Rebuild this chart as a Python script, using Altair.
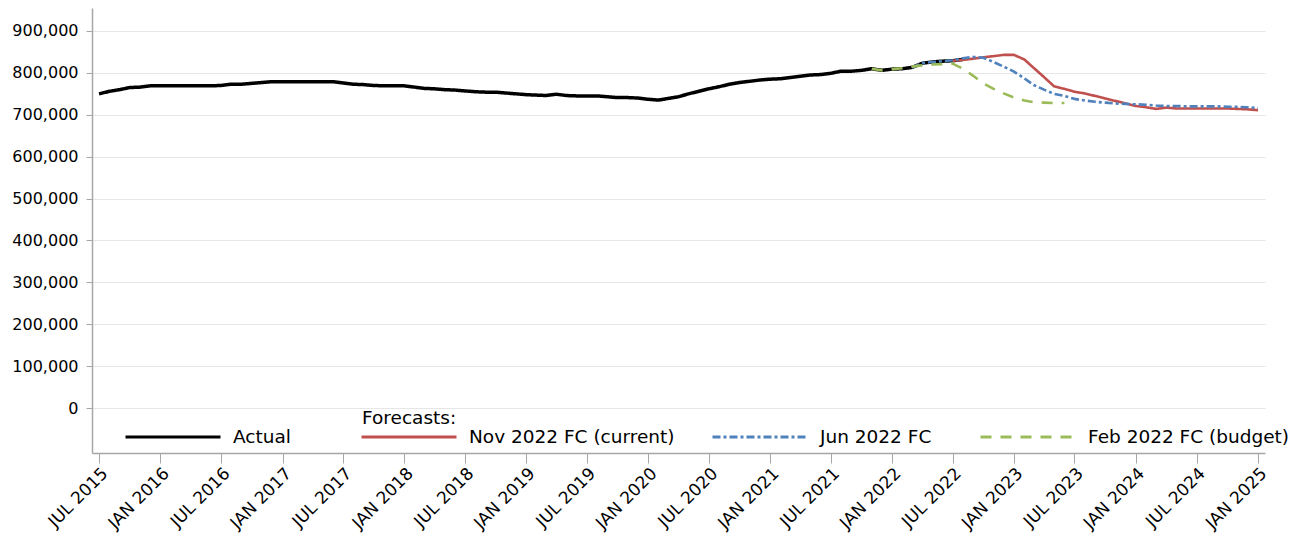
import altair as alt
import pandas as pd

# ---- data (values in thousands, monthly) ----
series_names = ["Actual", "Nov 2022 FC (current)", "Jun 2022 FC", "Feb 2022 FC (budget)"]

actual_start = "2015-07-01"
actual = [750, 756, 760, 765, 766, 769, 769, 769, 769, 769, 769, 769,
          770, 773, 773, 775, 777, 779, 779, 779, 779, 779, 779, 779,
          776, 773, 772, 770, 769, 769, 769, 766, 763, 762, 760, 759,
          757, 755, 754, 754, 752, 750, 748, 747, 746, 749, 746, 745,
          745, 745, 743, 741, 741, 740, 737, 735, 739, 743, 750, 756,
          762, 767, 773, 777, 780, 783, 785, 786, 789, 792, 795, 796,
          799, 804, 804, 806, 810, 806, 809, 810, 813, 823, 826, 828,
          829, 832]

nov_start = "2022-07-01"
nov_fc = [829, 831, 834, 837, 840, 843, 843, 832, 812, 790, 768, 762, 755, 751,
          745, 739, 733, 727, 721, 718, 714, 717, 715, 715, 715, 715, 715, 715,
          714, 713, 711]

jun_start = "2022-03-01"
jun_fc = [813, 823, 826, 828, 830, 835, 838, 836, 826, 815, 803, 787, 771, 760,
          750, 745, 738, 734, 731, 729, 727, 726, 725, 724, 722, 721, 721, 720,
          720, 720, 720, 719, 719, 718, 716]

feb_start = "2021-11-01"
feb_fc = [810, 806, 809, 811, 815, 818, 820, 821, 822, 810, 793, 775, 762, 751,
          741, 734, 730, 729, 728, 728]

y_ticks = [0, 100000, 200000, 300000, 400000, 500000, 600000, 700000, 800000, 900000]

colors = ["#000000", "#c0504d", "#4f81bd", "#9bbb59"]
dashes = [[1, 0], [1, 0], [8, 3, 3, 3], [11, 9]]
widths = [3.5, 2.6, 2.6, 2.6]
legend_x = [32, 268, 619, 887]

starts = [actual_start, nov_start, jun_start, feb_start]
values = [actual, nov_fc, jun_fc, feb_fc]

def ms(s):
    return int(pd.Timestamp(s, tz="UTC").value // 10**6)

FONT = "DejaVu Sans"

x_enc = alt.X("date:T",
              scale=alt.Scale(type="utc", domain=[ms("2015-06-10"), ms("2025-01-22")]),
              axis=alt.Axis(title=None, grid=False,
                            tickCount=alt.TimeIntervalStep(interval="month", step=6),
                            labelExpr="upper(utcFormat(datum.value, '%b %Y'))",
                            labelAngle=-45, labelFontSize=17, tickSize=10,
                            labelPadding=2, labelOverlap=False))
y_enc = alt.Y("value:Q",
              scale=alt.Scale(domain=[-107400, 954900], nice=False, zero=False),
              axis=alt.Axis(title=None, values=y_ticks, format=",d",
                            labelFontSize=16, tickSize=6, labelPadding=8))

layers = []
for name, start, vals, col, dash, w, lx in zip(series_names, starts, values,
                                               colors, dashes, widths, legend_x):
    dates = pd.date_range(start, periods=len(vals), freq="MS")
    d = pd.DataFrame({"date": dates.strftime("%Y-%m-%d"),
                      "value": [v * 1000 for v in vals],
                      "series": name})
    leg = alt.Legend(orient="none", legendX=lx, legendY=380, title=None,
                     symbolType="stroke", symbolSize=9025, symbolStrokeWidth=3,
                     labelFontSize=18.5, labelOffset=11, labelLimit=400, padding=0)
    layers.append(
        alt.Chart(d).mark_line(strokeJoin="round", strokeCap="butt", strokeWidth=w).encode(
            x=x_enc, y=y_enc,
            color=alt.Color("series:N", scale=alt.Scale(domain=[name], range=[col]), legend=leg),
            strokeDash=alt.StrokeDash("series:N", scale=alt.Scale(domain=[name], range=[dash]),
                                      legend=leg),
            order=alt.Order("date:T"),
        )
    )

label = alt.Chart(pd.DataFrame({"t": ["Forecasts:"]})).mark_text(
    align="left", baseline="middle", fontSize=18.5, font=FONT, color="#000000"
).encode(text="t:N", x=alt.value(270), y=alt.value(410))

chart = alt.layer(*layers, label).resolve_scale(
    color="independent", strokeDash="independent"
).properties(
    width=1173, height=445,
    padding={"left": 84, "top": 0, "right": 33, "bottom": 85},
    autosize=alt.AutoSizeParams(type="none"),
).configure(font=FONT).configure_view(stroke=None).configure_axis(
    domainColor="#a6a6a6", tickColor="#a6a6a6", gridColor="#e6e6e6",
    labelColor="#000000", labelFont=FONT, domainWidth=1.5
).configure_legend(labelFont=FONT, labelColor="#000000")

chart.save("out.html", embed_options={"renderer": "svg", "actions": False})
